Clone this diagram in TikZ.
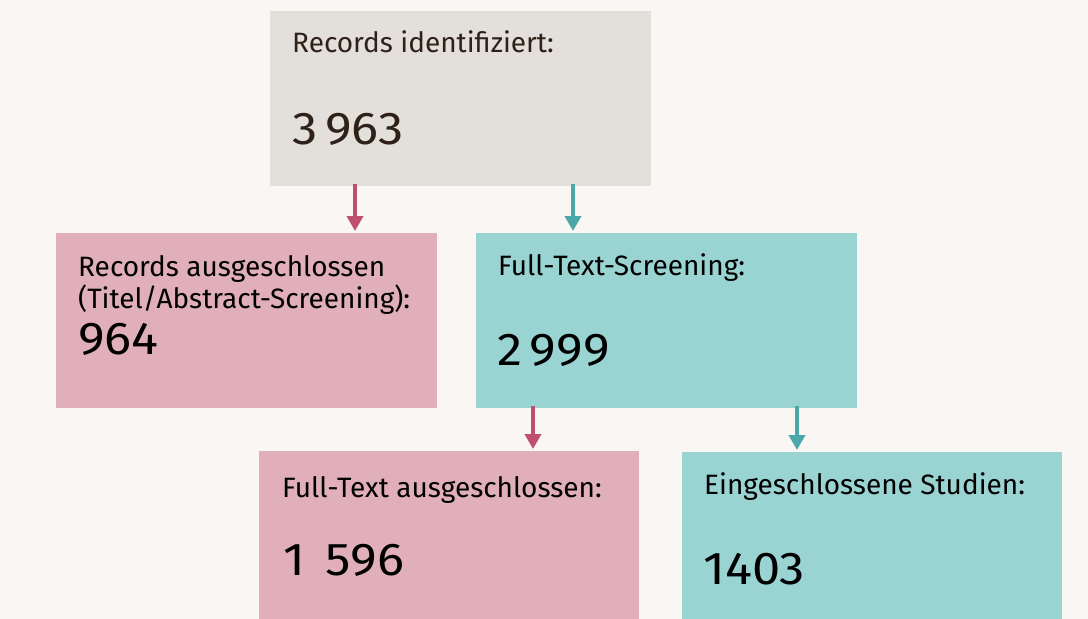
\documentclass[tikz,border=0pt]{standalone}
\usepackage{fontspec}
\setmainfont{Fira Sans}
\newfontfamily\numfont[FakeStretch=1.1]{Fira Sans}
\usetikzlibrary{arrows.meta}
\definecolor{bg}{HTML}{F9F6F3}
\definecolor{graybox}{HTML}{E3DFDA}
\definecolor{pinkbox}{HTML}{E0AFBA}
\definecolor{tealbox}{HTML}{99D3D2}
\definecolor{pinkarr}{HTML}{BE4F6E}
\definecolor{tealarr}{HTML}{4AA9A8}
\definecolor{darktext}{HTML}{2E2218}
\tikzset{
  box/.style={anchor=north west, inner sep=0pt, outer sep=0pt, minimum width=381pt, minimum height=175pt, draw=none},
  lbl/.style={anchor=base west, inner sep=0pt, font=\fontsize{28}{32}\selectfont},
  num/.style={anchor=base west, inner sep=0pt, font=\numfont\fontsize{46}{50}\selectfont},
  arr/.style={line width=4.5pt, -{Triangle[length=15pt,width=16pt]}, shorten <=-2pt, shorten >=2pt},
}
\begin{document}
\begin{tikzpicture}[x=1pt,y=-1pt]
\clip (0,0) rectangle (1088,619);
\fill[bg] (0,0) rectangle (1088,619);
% boxes
\node[box, fill=graybox] (top) at (270,11) {};
\node[box, fill=pinkbox] (rej1) at (56,233) {};
\node[box, fill=tealbox] (full) at (476,233) {};
\node[box, fill=pinkbox, minimum width=380pt] (rej2) at (259,451) {};
\node[box, fill=tealbox, minimum width=380pt] (incl) at (682,452) {};
% texts
\node[lbl, text=darktext] (t1) at (292,52) {Records identifiziert:};
\node[num, text=darktext] (n1) at (292,144) {3\,963};
\node[lbl] (t2a) at (78,276) {Records ausgeschlossen};
\node[lbl] (t2b) at (78,308) {(Titel/Abstract-Screening):};
\node[num] (n2) at (78,354) {964};
\node[lbl] (t3) at (498,275) {Full-Text-Screening:};
\node[num] (n3) at (497,365) {2\,999};
\node[lbl] (t4) at (282,497) {Full-Text ausgeschlossen:};
\node[num] (n4) at (283,575) {1\hspace{0.45em}596};
\node[lbl] (t5) at (704,494) {Eingeschlossene Studien:};
\node[num] (n5) at (703,584) {1403};
% arrows
\draw[arr, pinkarr] ([xshift=85pt]top.south west) -- ([xshift=85pt]top.south west |- rej1.north);
\draw[arr, tealarr] ([xshift=303pt]top.south west) -- ([xshift=303pt]top.south west |- full.north);
\draw[arr, pinkarr] ([xshift=57pt]full.south west) -- ([xshift=57pt]full.south west |- rej2.north);
\draw[arr, tealarr] ([xshift=321pt]full.south west) -- ([xshift=321pt]full.south west |- incl.north);
\end{tikzpicture}
\end{document}
